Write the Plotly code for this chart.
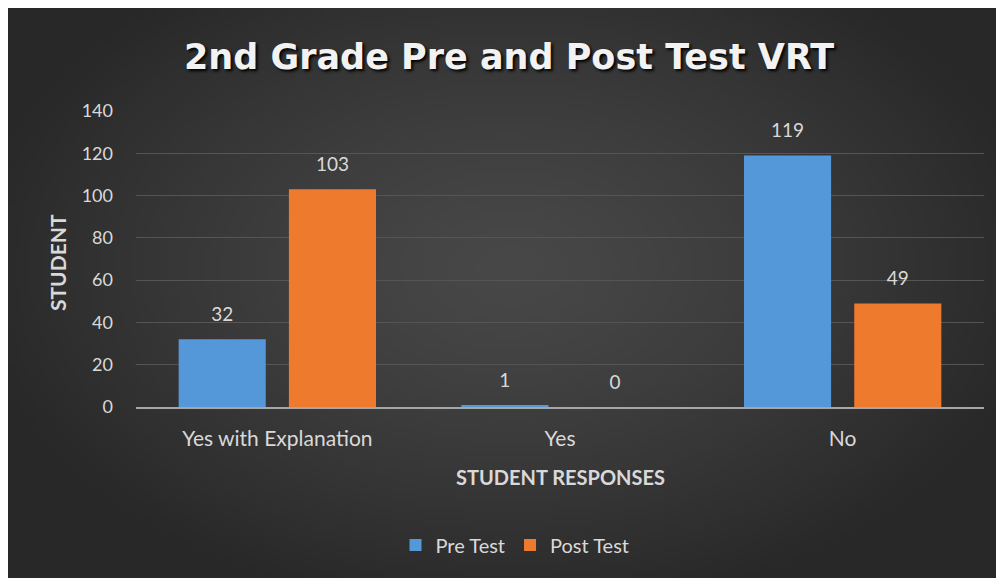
import base64, struct, zlib
import numpy as np
import plotly.graph_objects as go

# ---- data ----
categories = ["Yes with Explanation", "Yes", "No"]
pre_test = [32, 1, 119]
post_test = [103, 0, 49]
series_names = ["Pre Test", "Post Test"]
y_ticks = [0, 20, 40, 60, 80, 100, 120, 140]

# ---- layout geometry (pixels) ----
OFF = 8                     # page offset of the figure (body margin)
W, H = 996, 570
ML, MT = 136 - OFF, 111 - OFF
MR = W - (984 - OFF)
MB = H - (407 - OFF)
PW, PH = W - ML - MR, H - MT - MB


def px_x(px):  # page pixel -> paper x
    return (px - OFF - ML) / PW


def px_y(py):  # page pixel -> paper y
    return (H - MB - (py - OFF)) / PH


def png_uri(arr):
    h, w, _ = arr.shape
    raw = b"".join(b"\x00" + arr[i].tobytes() for i in range(h))

    def chunk(tag, data):
        c = struct.pack(">I", len(data)) + tag + data
        return c + struct.pack(">I", zlib.crc32(tag + data) & 0xFFFFFFFF)

    png = b"\x89PNG\r\n\x1a\n" + chunk(b"IHDR", struct.pack(">IIBBBBB", w, h, 8, 2, 0, 0, 0))
    png += chunk(b"IDAT", zlib.compress(raw, 9)) + chunk(b"IEND", b"")
    return "data:image/png;base64," + base64.b64encode(png).decode()


# radial dark background
gw, gh = 200, 115
yy, xx = np.mgrid[0:gh, 0:gw]
d = np.sqrt(((xx / gw - 0.5) / 0.55) ** 2 + ((yy / gh - 0.45) / 0.62) ** 2)
d = np.clip(d, 0, 1)
v = (72 - (72 - 40) * d ** 1.3).astype(np.uint8)
bg = np.stack([v, v, v], axis=-1)
bg_uri = png_uri(bg)

blue = "#5498DA"
orange = "#EE7A2E"
label_col = "#D9D9D9"
font_main = "Lato"


def label(vals):
    # value label (19px) with a small spacer line beneath it, lifting it off the bar top
    return [f"<span style='font-size:19px'>{v}</span><br> " for v in vals]


fig = go.Figure()
fig.add_trace(go.Bar(
    name=series_names[0], x=categories, y=pre_test, marker=dict(color=blue, line=dict(width=0)),
    text=label(pre_test), textposition="outside", cliponaxis=False,
    textfont=dict(color=label_col, size=10, family=font_main),
))
fig.add_trace(go.Bar(
    name=series_names[1], x=categories, y=post_test, marker=dict(color=orange, line=dict(width=0)),
    text=label(post_test), textposition="outside", cliponaxis=False,
    textfont=dict(color=label_col, size=10, family=font_main),
))

x0, x1 = px_x(OFF), px_x(OFF + W)
y1, y0 = px_y(OFF), px_y(OFF + H)

fig.update_layout(
    width=W, height=H,
    margin=dict(l=ML, r=MR, t=MT, b=MB),
    paper_bgcolor="#333333",
    plot_bgcolor="rgba(0,0,0,0)",
    barmode="group", bargap=0.22, bargroupgap=0.21,
    showlegend=True,
    legend=dict(orientation="h", x=px_x(515), xanchor="center", y=px_y(545), yanchor="middle",
                font=dict(color=label_col, size=20, family=font_main), bgcolor="rgba(0,0,0,0)",
                itemwidth=30, traceorder="normal"),
    images=[dict(source=bg_uri, xref="paper", yref="paper", x=x0, y=y1, sizex=x1 - x0, sizey=y1 - y0,
                 xanchor="left", yanchor="top", sizing="stretch", layer="below")],
    xaxis=dict(showgrid=False, showline=True, linecolor="#A6A6A6", linewidth=2,
               tickfont=dict(color=label_col, size=21, family=font_main), ticks="",
               ticklabelstandoff=12),
    yaxis=dict(range=[0, 140], tickvals=y_ticks, showgrid=True, gridcolor="#555555", gridwidth=1,
               zeroline=False, showline=False, ticks="",
               tickfont=dict(color=label_col, size=18, family=font_main), ticklabelstandoff=22),
    annotations=[
        dict(text="2nd Grade Pre and Post Test VRT", xref="paper", yref="paper", x=px_x(509), y=px_y(57),
             xanchor="center", yanchor="middle", showarrow=False,
             font=dict(family="DejaVu Sans", size=35, color="#F2F2F2", weight="bold",
                       shadow="2px 2px 3px #000000")),
        dict(text="<b>STUDENT RESPONSES</b>", xref="paper", yref="paper", x=px_x(560), y=px_y(477),
             xanchor="center", yanchor="middle", showarrow=False,
             font=dict(family=font_main, size=20, color=label_col)),
        dict(text="<b>STUDENT</b>", xref="paper", yref="paper", x=px_x(57), y=px_y(263), textangle=-90,
             xanchor="center", yanchor="middle", showarrow=False,
             font=dict(family=font_main, size=21, color=label_col)),
    ],
)

fig.write_html("out.html")
